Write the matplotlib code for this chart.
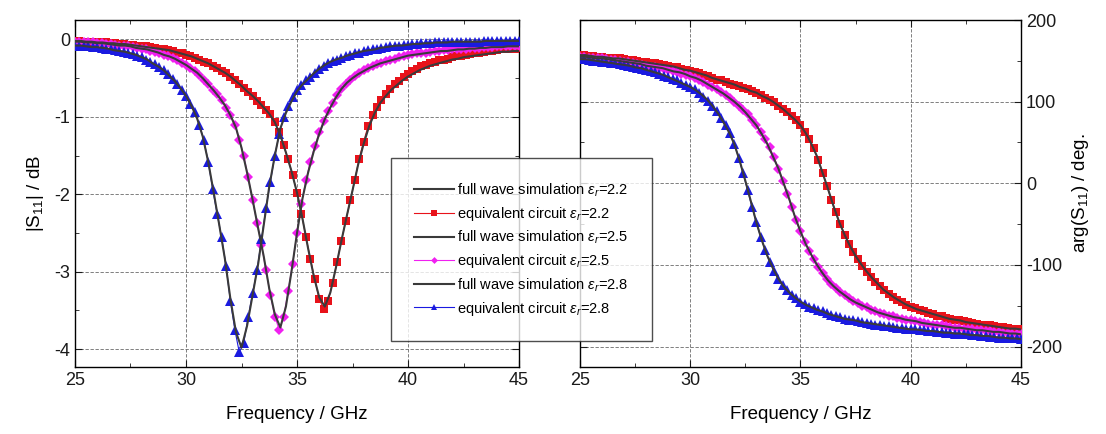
import matplotlib
matplotlib.use('Agg')
import matplotlib.pyplot as plt
import numpy as np
from matplotlib.ticker import MultipleLocator

plt.rcParams['font.family'] = ['Liberation Sans', 'DejaVu Sans']
plt.rcParams['mathtext.fontset'] = 'custom'
plt.rcParams['mathtext.rm'] = 'Liberation Sans'
plt.rcParams['mathtext.it'] = 'Liberation Sans:italic'
plt.rcParams['axes.unicode_minus'] = False

# frequency grids (GHz)
f_sim = np.linspace(25, 45, 81)    # full wave simulation, 0.25 GHz step
f_eq = np.linspace(25, 45, 101)    # equivalent circuit, 0.2 GHz step

# |S11| in dB, full wave simulation
mag_sim_22 = [
    -0.02, -0.02, -0.03, -0.03, -0.04, -0.04, -0.05, -0.05,
    -0.06, -0.06, -0.07, -0.08, -0.09, -0.10, -0.11, -0.12,
    -0.13, -0.14, -0.16, -0.18, -0.20, -0.22, -0.25, -0.28,
    -0.31, -0.35, -0.39, -0.43, -0.48, -0.54, -0.60, -0.67,
    -0.73, -0.80, -0.88, -0.96, -1.07, -1.24, -1.46, -1.70,
    -1.98, -2.32, -2.70, -3.05, -3.33, -3.45, -3.27, -2.95,
    -2.60, -2.27, -1.95, -1.62, -1.35, -1.12, -0.95, -0.82,
    -0.73, -0.65, -0.59, -0.53, -0.48, -0.44, -0.40, -0.37,
    -0.34, -0.32, -0.30, -0.28, -0.26, -0.25, -0.23, -0.22,
    -0.21, -0.20, -0.19, -0.18, -0.17, -0.16, -0.16, -0.15,
    -0.15]
mag_sim_25 = [
    -0.03, -0.03, -0.04, -0.04, -0.05, -0.05, -0.06, -0.07,
    -0.08, -0.08, -0.09, -0.11, -0.12, -0.13, -0.15, -0.17,
    -0.20, -0.22, -0.25, -0.29, -0.33, -0.38, -0.43, -0.50,
    -0.58, -0.66, -0.75, -0.85, -0.98, -1.14, -1.40, -1.72,
    -2.07, -2.44, -2.80, -3.22, -3.55, -3.72, -3.45, -3.00,
    -2.50, -2.05, -1.72, -1.45, -1.22, -1.03, -0.88, -0.75,
    -0.64, -0.56, -0.50, -0.45, -0.41, -0.37, -0.34, -0.31,
    -0.29, -0.27, -0.25, -0.23, -0.21, -0.20, -0.19, -0.18,
    -0.17, -0.16, -0.15, -0.15, -0.14, -0.13, -0.13, -0.12,
    -0.12, -0.11, -0.11, -0.10, -0.10, -0.10, -0.09, -0.09,
    -0.09]
mag_sim_28 = [
    -0.08, -0.08, -0.09, -0.10, -0.10, -0.11, -0.12, -0.14,
    -0.15, -0.16, -0.18, -0.20, -0.23, -0.26, -0.31, -0.35,
    -0.40, -0.47, -0.54, -0.63, -0.73, -0.86, -1.02, -1.25,
    -1.58, -1.98, -2.40, -2.83, -3.35, -3.78, -3.98, -3.70,
    -3.30, -2.90, -2.40, -1.90, -1.50, -1.15, -0.95, -0.80,
    -0.67, -0.58, -0.51, -0.44, -0.38, -0.33, -0.29, -0.26,
    -0.24, -0.21, -0.19, -0.17, -0.15, -0.14, -0.13, -0.11,
    -0.10, -0.09, -0.08, -0.08, -0.07, -0.06, -0.06, -0.05,
    -0.05, -0.04, -0.04, -0.04, -0.03, -0.03, -0.03, -0.03,
    -0.03, -0.03, -0.02, -0.02, -0.02, -0.02, -0.02, -0.02,
    -0.02]

# |S11| in dB, equivalent circuit
mag_eq_22 = [
    -0.02, -0.02, -0.03, -0.03, -0.03, -0.04, -0.04, -0.04, -0.05, -0.05,
    -0.06, -0.06, -0.07, -0.07, -0.08, -0.09, -0.09, -0.10, -0.11, -0.12,
    -0.13, -0.14, -0.15, -0.17, -0.18, -0.20, -0.22, -0.24, -0.26, -0.29,
    -0.31, -0.34, -0.37, -0.41, -0.44, -0.48, -0.53, -0.58, -0.63, -0.68,
    -0.73, -0.79, -0.85, -0.91, -0.97, -1.07, -1.20, -1.37, -1.55, -1.75,
    -1.98, -2.25, -2.55, -2.83, -3.10, -3.35, -3.48, -3.38, -3.15, -2.88,
    -2.60, -2.34, -2.08, -1.82, -1.54, -1.32, -1.12, -0.98, -0.87, -0.78,
    -0.70, -0.64, -0.58, -0.54, -0.49, -0.45, -0.41, -0.38, -0.35, -0.33,
    -0.31, -0.29, -0.27, -0.26, -0.25, -0.23, -0.22, -0.21, -0.20, -0.19,
    -0.18, -0.17, -0.16, -0.15, -0.15, -0.14, -0.13, -0.13, -0.12, -0.12,
    -0.11]
mag_eq_25 = [
    -0.03, -0.03, -0.04, -0.04, -0.04, -0.05, -0.05, -0.06, -0.06, -0.07,
    -0.08, -0.08, -0.09, -0.10, -0.11, -0.12, -0.13, -0.15, -0.16, -0.18,
    -0.20, -0.22, -0.24, -0.27, -0.30, -0.33, -0.37, -0.41, -0.46, -0.52,
    -0.58, -0.65, -0.71, -0.78, -0.88, -0.98, -1.10, -1.30, -1.50, -1.78,
    -2.08, -2.37, -2.65, -2.98, -3.30, -3.58, -3.75, -3.58, -3.25, -2.90,
    -2.50, -2.12, -1.82, -1.58, -1.38, -1.20, -1.05, -0.93, -0.82, -0.72,
    -0.64, -0.57, -0.52, -0.47, -0.43, -0.40, -0.37, -0.35, -0.32, -0.30,
    -0.28, -0.26, -0.25, -0.23, -0.22, -0.20, -0.19, -0.18, -0.17, -0.17,
    -0.16, -0.15, -0.15, -0.14, -0.14, -0.13, -0.13, -0.12, -0.12, -0.11,
    -0.11, -0.11, -0.10, -0.10, -0.10, -0.09, -0.09, -0.09, -0.08, -0.08,
    -0.08]
mag_eq_28 = [
    -0.08, -0.08, -0.09, -0.09, -0.10, -0.10, -0.11, -0.12, -0.13, -0.14,
    -0.15, -0.16, -0.17, -0.19, -0.21, -0.23, -0.26, -0.29, -0.32, -0.36,
    -0.40, -0.45, -0.51, -0.58, -0.65, -0.73, -0.83, -0.94, -1.10, -1.30,
    -1.58, -1.93, -2.25, -2.55, -2.92, -3.38, -3.75, -4.04, -3.92, -3.58,
    -3.28, -2.98, -2.58, -2.18, -1.84, -1.50, -1.22, -1.00, -0.86, -0.75,
    -0.66, -0.59, -0.53, -0.48, -0.43, -0.38, -0.34, -0.31, -0.28, -0.26,
    -0.24, -0.22, -0.20, -0.18, -0.17, -0.15, -0.14, -0.13, -0.12, -0.11,
    -0.10, -0.09, -0.08, -0.08, -0.07, -0.07, -0.06, -0.06, -0.05, -0.05,
    -0.05, -0.04, -0.04, -0.04, -0.04, -0.03, -0.03, -0.03, -0.03, -0.03,
    -0.03, -0.03, -0.02, -0.02, -0.02, -0.02, -0.02, -0.02, -0.02, -0.02,
    -0.02]

# arg(S11) in degrees, full wave simulation
ph_sim_22 = [
    157, 157, 156, 155, 155, 154, 153, 153,
    152, 151, 150, 149, 148, 147, 146, 145,
    144, 143, 141, 139, 138, 136, 134, 132,
    129, 127, 125, 123, 121, 118, 116, 113,
    111, 107, 104, 100, 95, 90, 84, 78,
    71, 61, 48, 33, 13, -7, -28, -47,
    -63, -77, -89, -99, -108, -116, -123, -130,
    -135, -140, -144, -148, -151, -154, -156, -158,
    -160, -162, -164, -166, -167, -168, -170, -171,
    -172, -173, -174, -175, -176, -177, -178, -178,
    -179]
ph_sim_25 = [
    155, 155, 154, 153, 153, 152, 151, 150,
    149, 148, 147, 146, 144, 143, 142, 141,
    139, 137, 136, 134, 131, 129, 126, 122,
    118, 114, 110, 105, 100, 94, 87, 79,
    71, 60, 48, 33, 18, -1, -20, -41,
    -59, -75, -88, -100, -110, -119, -126, -132,
    -137, -142, -146, -149, -152, -155, -158, -160,
    -162, -164, -165, -167, -168, -169, -171, -172,
    -173, -174, -175, -176, -177, -177, -178, -179,
    -180, -180, -181, -182, -182, -183, -184, -184,
    -185]
ph_sim_28 = [
    152, 152, 151, 150, 149, 148, 147, 146,
    145, 144, 142, 141, 139, 137, 135, 133,
    130, 127, 124, 121, 118, 114, 109, 103,
    95, 86, 75, 63, 48, 27, 3, -22,
    -48, -70, -89, -104, -117, -127, -134, -140,
    -145, -149, -152, -155, -157, -160, -162, -164,
    -166, -167, -168, -170, -171, -172, -173, -174,
    -175, -176, -177, -178, -179, -179, -180, -181,
    -181, -182, -183, -183, -184, -184, -185, -186,
    -186, -187, -187, -188, -189, -189, -190, -190,
    -191]

# arg(S11) in degrees, equivalent circuit
ph_eq_22 = [
    157, 157, 156, 156, 155, 155, 154, 154, 153, 153,
    152, 151, 151, 150, 149, 148, 147, 147, 146, 145,
    144, 143, 142, 140, 139, 138, 136, 135, 133, 131,
    129, 127, 126, 124, 122, 121, 119, 117, 115, 113,
    111, 108, 105, 102, 99, 95, 91, 87, 82, 77,
    71, 63, 54, 43, 29, 13, -3, -20, -35, -50,
    -63, -74, -84, -93, -101, -109, -115, -121, -126, -131,
    -135, -139, -143, -146, -149, -151, -153, -155, -157, -159,
    -160, -162, -163, -165, -166, -167, -168, -169, -170, -171,
    -172, -173, -173, -174, -175, -176, -176, -177, -178, -178,
    -179]
ph_eq_25 = [
    155, 155, 154, 154, 153, 153, 152, 151, 151, 150,
    149, 148, 147, 146, 145, 144, 143, 142, 141, 140,
    139, 137, 136, 134, 133, 131, 129, 127, 124, 121,
    118, 115, 112, 108, 104, 100, 95, 90, 85, 78,
    71, 63, 54, 44, 32, 18, 3, -13, -29, -45,
    -59, -72, -83, -93, -102, -110, -117, -123, -128, -133,
    -137, -141, -144, -147, -150, -152, -155, -157, -159, -160,
    -162, -163, -165, -166, -167, -168, -169, -170, -171, -172,
    -173, -174, -174, -175, -176, -177, -177, -178, -178, -179,
    -180, -180, -181, -181, -182, -182, -183, -183, -184, -184,
    -185]
ph_eq_28 = [
    152, 152, 151, 150, 150, 149, 148, 147, 147, 146,
    145, 144, 143, 141, 140, 139, 137, 136, 134, 132,
    130, 128, 126, 123, 121, 118, 115, 111, 106, 101,
    95, 88, 80, 71, 62, 48, 31, 12, -8, -29,
    -48, -66, -82, -96, -107, -117, -125, -131, -137, -141,
    -145, -148, -151, -153, -155, -157, -159, -161, -163, -164,
    -166, -167, -168, -169, -170, -171, -172, -173, -174, -175,
    -175, -176, -177, -177, -178, -179, -179, -180, -180, -181,
    -181, -182, -182, -183, -183, -184, -184, -185, -185, -186,
    -186, -187, -187, -188, -188, -189, -189, -189, -190, -190,
    -191]

eps_labels = ['2.2', '2.5', '2.8']
eq_colors = ['#e8121a', '#f020f0', '#1a1ae0']
eq_markers = ['s', 'D', '^']
eq_sizes = [5.5, 5.0, 6.5]
line_color = '#3a3a3a'

fig = plt.figure(figsize=(11.06, 4.34), dpi=100)
ax1 = fig.add_axes([0.0678, 0.1544, 0.4015, 0.7995])
ax2 = fig.add_axes([0.5244, 0.1544, 0.3987, 0.7995])

mag_sim = [mag_sim_22, mag_sim_25, mag_sim_28]
mag_eq = [mag_eq_22, mag_eq_25, mag_eq_28]
ph_sim = [ph_sim_22, ph_sim_25, ph_sim_28]
ph_eq = [ph_eq_22, ph_eq_25, ph_eq_28]

handles = []
labels = []
for i in range(3):
    hs, = ax1.plot(f_sim, mag_sim[i], color=line_color, lw=1.5, zorder=4)
    he, = ax1.plot(f_eq, mag_eq[i], color=eq_colors[i], lw=0.8,
                   marker=eq_markers[i], ms=eq_sizes[i], mew=0, zorder=3)
    ax2.plot(f_sim, ph_sim[i], color=line_color, lw=1.5, zorder=4)
    ax2.plot(f_eq, ph_eq[i], color=eq_colors[i], lw=0.8,
             marker=eq_markers[i], ms=eq_sizes[i], mew=0, zorder=3)
    handles += [hs, he]
    labels += [r'full wave simulation $\epsilon_r$=' + eps_labels[i],
               r'equivalent circuit $\epsilon_r$=' + eps_labels[i]]

for ax in (ax1, ax2):
    ax.set_xlim(25, 45)
    ax.xaxis.set_major_locator(MultipleLocator(5))
    ax.xaxis.set_minor_locator(MultipleLocator(2.5))
    ax.grid(True, which='major', color='#6a6a6a', ls=(0, (4, 2)), lw=0.6)
    ax.tick_params(which='both', direction='in', top=True, left=True,
                   right=True, bottom=True, labelsize=13, colors='#1a1a1a')
    ax.tick_params(which='major', length=5)
    ax.tick_params(which='minor', length=3)
    ax.set_xlabel('Frequency / GHz', fontsize=13.5, labelpad=12)
    for s in ax.spines.values():
        s.set_linewidth(1.0)

ax1.set_ylim(-4.23, 0.25)
ax1.yaxis.set_major_locator(MultipleLocator(1))
ax1.yaxis.set_minor_locator(MultipleLocator(0.5))
ax1.set_ylabel(r'|S$_{11}$| / dB', fontsize=13.5, labelpad=6)

ax2.set_ylim(-225, 200)
ax2.yaxis.set_major_locator(MultipleLocator(100))
ax2.yaxis.set_minor_locator(MultipleLocator(50))
ax2.tick_params(axis='y', labelleft=False, labelright=True)
ax2.yaxis.set_label_position('right')
ax2.set_ylabel(r'arg(S$_{11}$) / deg.', fontsize=13.5, labelpad=6)

leg = fig.legend(handles, labels, loc='center',
                 bbox_to_anchor=(0.4711, 0.4251), fontsize=10.5,
                 frameon=True, fancybox=False, edgecolor='#222222',
                 borderpad=1.6, labelspacing=0.41, handlelength=2.75,
                 handletextpad=0.2, borderaxespad=0, markerscale=0.7)
leg.get_frame().set_linewidth(1.0)
leg.set_zorder(10)

fig.savefig('out.png', dpi=100)
